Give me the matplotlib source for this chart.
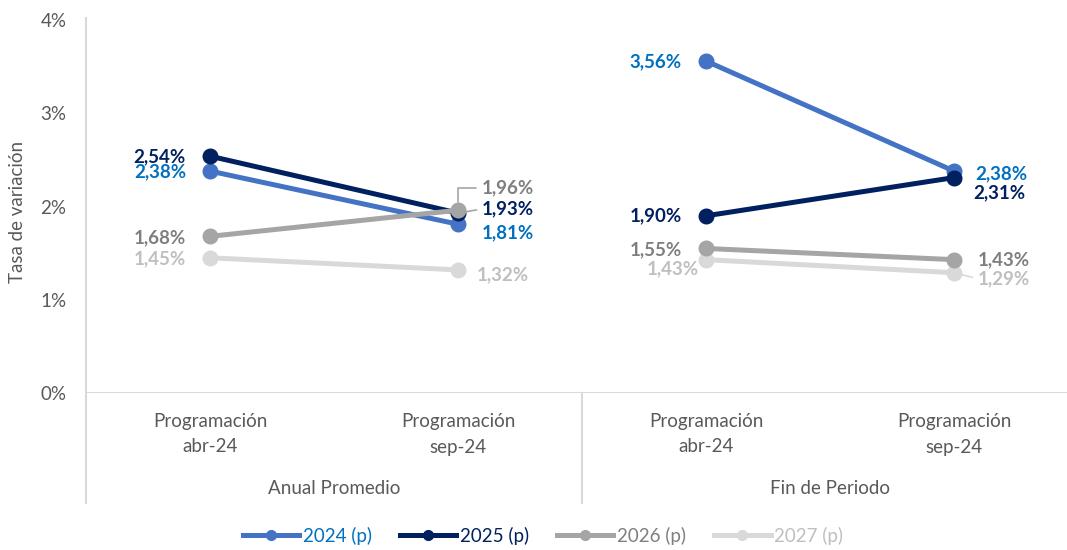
import matplotlib.pyplot as plt
from matplotlib.lines import Line2D
from matplotlib.transforms import blended_transform_factory
import numpy as np

plt.rcParams['font.family'] = ['Lato', 'DejaVu Sans']

# datos
grupos = ['Anual Promedio', 'Fin de Periodo']
programaciones = ['abr-24', 'sep-24']
series = ['2024 (p)', '2025 (p)', '2026 (p)', '2027 (p)']
v2024 = [2.38, 1.81, 3.56, 2.38]
v2025 = [2.54, 1.93, 1.90, 2.31]
v2026 = [1.68, 1.96, 1.55, 1.43]
v2027 = [1.45, 1.32, 1.43, 1.29]
valores = [v2024, v2025, v2026, v2027]

col_linea = ['#4472C4', '#002060', '#A5A5A5', '#D9D9D9']
col_texto = ['#0070C0', '#002060', '#7F7F7F', '#BFBFBF']
orden = [2, 3, 4, 1]

# desplazamiento de etiquetas (px a la derecha, px hacia abajo, alineacion)
desp = [
    [(-24, 1, 'right'), (24, 9, 'left'), (-24, 1, 'right'), (21, 3, 'left')],
    [(-24, 1, 'right'), (24, -4, 'left'), (-24, 0, 'right'), (19, 15, 'left')],
    [(-24, 1, 'right'), (24, -22, 'left'), (-24, 1, 'right'), (24, 0, 'left')],
    [(-24, 1, 'right'), (19, 5, 'left'), (-7, 9, 'right'), (24, 6, 'left')],
]

W, H = 1067, 550
fig = plt.figure(figsize=(W / 100, H / 100), dpi=100)
ax = fig.add_axes([86 / W, (H - 393) / H, (1078 - 86) / W, (393 - 20) / H])

x = np.arange(4)
for i in range(4):
    for g in range(2):
        xs = x[2 * g:2 * g + 2]
        ys = valores[i][2 * g:2 * g + 2]
        ax.plot(xs, ys, color=col_linea[i], lw=3.6, marker='o', ms=10.5,
                solid_capstyle='round', zorder=orden[i], clip_on=False)
    for j in range(4):
        dx, dy, ha = desp[i][j]
        txt = f'{valores[i][j]:.2f}'.replace('.', ',') + '%'
        kw = {}
        if (i, j) == (2, 1):
            kw['arrowprops'] = dict(arrowstyle='-', color='#A5A5A5', lw=1.2,
                                    shrinkA=2, shrinkB=6, relpos=(0, 0.5),
                                    connectionstyle='angle,angleA=0,angleB=90,rad=0')
        if (i, j) in [(1, 1), (3, 3)]:
            kw['arrowprops'] = dict(arrowstyle='-', color=col_linea[i] if i == 3 else '#A5A5A5',
                                    lw=1.2, shrinkA=2, shrinkB=6, relpos=(0, 0.5))
        ax.annotate(txt, (x[j], valores[i][j]), xytext=(dx, -dy),
                    textcoords='offset pixels', ha=ha, va='center',
                    fontsize=13.5, fontweight='bold', color=col_texto[i],
                    zorder=10, **kw)

ax.set_xlim(-0.5, 3.5)
ax.set_ylim(0, 4)
ax.set_yticks([0, 1, 2, 3, 4])
ax.set_yticklabels([f'{t}%' for t in range(5)])
ax.tick_params(axis='y', length=0, pad=14, labelsize=13.5, labelcolor='#595959')
ax.set_xticks([])
for s in ax.spines.values():
    s.set_visible(False)
ax.axhline(0, color='#D9D9D9', lw=1.5, zorder=0)

# ejes y etiquetas de categorias
fig.add_artist(Line2D([86 / W, 86 / W], [1 - 18 / H, 1 - 503 / H],
                      color='#D9D9D9', lw=1.5))
tr = blended_transform_factory(ax.transData, fig.transFigure)
ax.add_artist(Line2D([1.5, 1.5], [1 - 393 / H, 1 - 503 / H], color='#D9D9D9',
                     lw=1.5, transform=tr, clip_on=False))
for j in range(4):
    ax.text(x[j], 1 - 421 / H, 'Programación', transform=tr, ha='center',
            va='center', fontsize=13.5, color='#595959')
    ax.text(x[j], 1 - 447 / H, programaciones[j % 2], transform=tr, ha='center',
            va='center', fontsize=13.5, color='#595959')
for g in range(2):
    ax.text(2 * g + 0.5, 1 - 489 / H, grupos[g], transform=tr, ha='center',
            va='center', fontsize=13.5, color='#595959')

fig.text(18 / W, 1 - 212 / H, 'Tasa de variación', rotation=90, ha='center',
         va='center', fontsize=13.5, color='#595959')

handles = [Line2D([], [], color=col_linea[i], lw=3.6, marker='o', ms=7)
           for i in range(4)]
fig.legend(handles, series, loc='center', bbox_to_anchor=(543 / W, 1 - 536 / H),
           ncol=4, frameon=False, fontsize=13.5, handlelength=3.0,
           handletextpad=0.2, columnspacing=1.5, labelcolor=col_texto)

fig.savefig('out.png', dpi=100)
